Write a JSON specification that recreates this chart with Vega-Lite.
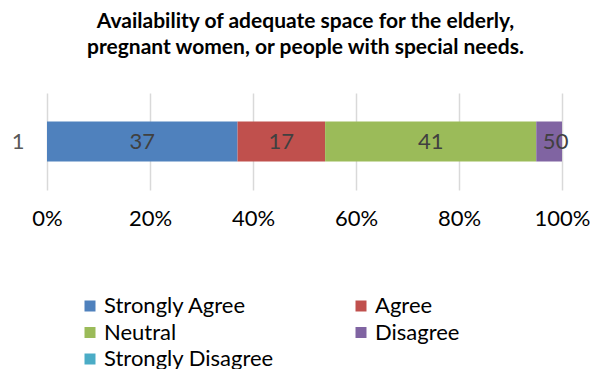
{
  "$schema": "https://vega.github.io/schema/vega-lite/v6.json",
  "autosize": {"type": "none"},
  "width": 515,
  "height": 97,
  "padding": {"left": 47, "top": 93, "right": 28, "bottom": 179},
  "background": "white",
  "config": {"view": {"stroke": null}},
  "title": {
    "text": ["Availability of adequate space for the elderly,", "pregnant women, or people with special needs."],
    "font": "Lato",
    "fontSize": 21,
    "fontWeight": "bold",
    "color": "#000000",
    "lineHeight": 26,
    "anchor": "middle",
    "offset": 35,
    "dx": 1
  },
  "data": {
    "values": [
      {"cat": "1", "response": "Strongly Agree", "value": 37, "o": 1},
      {"cat": "1", "response": "Agree", "value": 17, "o": 2},
      {"cat": "1", "response": "Neutral", "value": 41, "o": 3},
      {"cat": "1", "response": "Disagree", "value": 5, "o": 4},
      {"cat": "1", "response": "Strongly Disagree", "value": 0, "o": 5}
    ]
  },
  "transform": [
    {"stack": "value", "groupby": ["cat"], "sort": [{"field": "o", "order": "ascending"}], "offset": "normalize", "as": ["x0", "x1"]},
    {"calculate": "(datum.x0 + datum.x1) / 2", "as": "xm"}
  ],
  "encoding": {
    "y": {
      "field": "cat", "type": "nominal", "title": null,
      "scale": {"padding": 0.416},
      "axis": {"domain": false, "ticks": false, "labelFont": "Lato", "labelFontSize": 22, "labelColor": "#595959", "labelPadding": 23, "labelAngle": 0}
    }
  },
  "layer": [
    {
      "mark": {"type": "bar"},
      "encoding": {
        "x": {
          "field": "x0", "type": "quantitative", "title": null,
          "scale": {"domain": [0, 1], "nice": false},
          "axis": {"values": [0, 0.2, 0.4, 0.6, 0.8, 1], "format": ".0%", "domain": false, "ticks": false, "grid": true, "gridColor": "#d9d9d9", "gridWidth": 1.5, "labelFont": "Lato", "labelFontSize": 22, "labelColor": "#000000", "labelPadding": 18, "labelFlush": false}
        },
        "x2": {"field": "x1"},
        "color": {
          "field": "response", "type": "nominal",
          "scale": {
            "domain": ["Strongly Agree", "Agree", "Neutral", "Disagree", "Strongly Disagree"],
            "range": ["#4f81bd", "#c0504d", "#9bbb59", "#8064a2", "#4bacc6"]
          },
          "legend": {
            "title": null, "orient": "none", "direction": "horizontal", "legendX": 32, "legendY": 202, "columns": 2, "columnPadding": 76, "rowPadding": 4.5,
            "symbolType": "square", "symbolSize": 121, "symbolStrokeWidth": 0, "labelFont": "Lato", "labelFontSize": 22, "labelColor": "#000000", "labelOffset": 3, "labelLimit": 300
          }
        }
      }
    },
    {
      "mark": {"type": "text", "font": "Lato", "fontSize": 22, "color": "#404040", "baseline": "middle", "align": "center"},
      "encoding": {
        "x": {"field": "xm", "type": "quantitative"},
        "text": {"field": "value", "type": "quantitative"}
      }
    }
  ]
}
